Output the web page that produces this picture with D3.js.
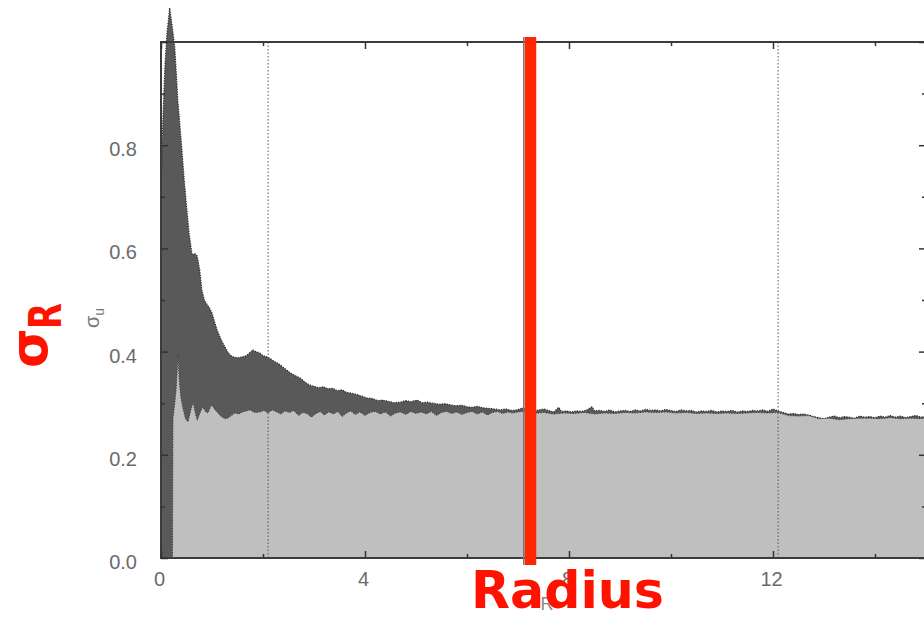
<!DOCTYPE html>
<html>
<head>
<meta charset="utf-8">
<script src="https://cdn.jsdelivr.net/npm/d3@7"></script>
<style>
  html, body { margin: 0; padding: 0; background: #fff; }
  svg { display: block; }
</style>
</head>
<body>
<svg id="chart" width="924" height="621"></svg>
<script>
// Velocity dispersion profile: upper envelope (dark) and lower envelope (light)
const upperR = [0.00,0.04,0.08,0.12,0.17,0.22,0.27,0.33,0.37,0.41,0.45,0.49,0.55,0.61,0.66,0.71,0.76,0.80,0.85,0.90,
  0.95,1.00,1.05,1.10,1.15,1.20,1.26,1.31,1.36,1.41,1.50,1.60,1.67,1.74,1.80,1.86,1.94,2.00,2.08,2.15,
  2.22,2.30,2.39,2.47,2.55,2.64,2.73,2.82,2.92,3.00,3.08,3.18,3.27,3.37,3.46,3.55,3.63,3.71,3.80,3.90,
  4.04,4.15,4.25,4.35,4.45,4.57,4.69,4.80,4.90,5.02,5.12,5.22,5.33,5.45,5.57,5.67,5.78,5.90,6.00,6.10,
  6.20,6.31,6.42,6.53,6.65,6.76,6.87,6.98,7.10,7.20,7.30,7.40,7.50,7.60,7.70,7.80,7.85,7.95,8.05,8.15,
  8.25,8.35,8.45,8.50,8.60,8.70,8.80,8.90,9.00,9.10,9.20,9.30,9.40,9.50,9.60,9.70,9.80,9.90,10.00,10.10,
  10.20,10.30,10.40,10.50,10.60,10.70,10.80,10.90,11.00,11.10,11.20,11.30,11.40,11.50,11.60,11.70,11.80,11.90,12.00,12.10,
  12.20,12.30,12.40,12.50,12.60,12.70,12.80,12.90,13.00,13.10,13.20,13.30,13.40,13.50,13.60,13.70,13.80,13.90,14.00,14.10,
  14.20,14.30,14.40,14.50,14.60,14.70,14.80,14.90,15.00];
const upperSigma = [0.72,0.86,0.96,1.02,1.066,1.03,0.99,0.888,0.84,0.791,0.74,0.694,0.630,0.587,0.590,0.585,0.558,0.52,0.500,0.492,
  0.485,0.475,0.458,0.442,0.430,0.419,0.408,0.399,0.393,0.390,0.388,0.390,0.392,0.398,0.403,0.400,0.397,0.392,0.390,0.386,
  0.381,0.377,0.370,0.364,0.358,0.353,0.349,0.341,0.335,0.333,0.330,0.332,0.328,0.329,0.324,0.326,0.321,0.320,0.318,0.315,
  0.310,0.309,0.305,0.306,0.304,0.301,0.302,0.305,0.303,0.306,0.301,0.302,0.300,0.298,0.299,0.297,0.295,0.296,0.293,0.292,
  0.294,0.291,0.290,0.289,0.287,0.289,0.286,0.287,0.291,0.289,0.284,0.287,0.289,0.286,0.283,0.292,0.284,0.285,0.283,0.285,
  0.284,0.287,0.293,0.285,0.286,0.284,0.287,0.283,0.285,0.286,0.284,0.287,0.285,0.288,0.286,0.287,0.285,0.288,0.286,0.284,
  0.287,0.285,0.286,0.283,0.285,0.284,0.286,0.283,0.285,0.284,0.286,0.283,0.285,0.284,0.286,0.285,0.287,0.284,0.289,0.285,
  0.282,0.279,0.280,0.278,0.279,0.277,0.274,0.272,0.270,0.273,0.275,0.272,0.274,0.273,0.271,0.275,0.273,0.274,0.272,0.275,
  0.273,0.276,0.273,0.275,0.272,0.274,0.276,0.273,0.275];

const lowerR = [0.000,0.225,0.235,0.27,0.30,0.333,0.36,0.39,0.43,0.48,0.53,0.58,0.63,0.67,0.71,0.76,0.82,0.87,0.92,0.96,
  1.00,1.05,1.10,1.15,1.20,1.26,1.31,1.38,1.45,1.52,1.60,1.67,1.75,1.83,1.94,2.02,2.10,2.18,2.27,2.35,
  2.43,2.52,2.60,2.70,2.78,2.86,2.95,3.04,3.12,3.20,3.29,3.38,3.47,3.55,3.64,3.72,3.81,3.90,4.00,4.10,
  4.20,4.30,4.40,4.50,4.60,4.70,4.80,4.90,5.00,5.10,5.20,5.30,5.40,5.50,5.60,5.70,5.80,5.90,6.00,6.10,
  6.20,6.30,6.40,6.50,6.60,6.70,6.80,6.90,7.00,7.10,7.30,7.50,7.70,7.90,8.10,8.30,8.50,8.70,8.90,9.10,
  9.30,9.50,9.70,9.90,10.10,10.30,10.50,10.70,10.90,11.10,11.30,11.50,11.70,11.90,12.10,12.30,12.50,12.70,12.90,13.10,
  13.30,13.50,13.70,13.90,14.10,14.30,14.50,14.70,14.90,15.00];
const lowerSigma = [0,0,0.27,0.30,0.33,0.393,0.34,0.31,0.29,0.27,0.264,0.285,0.302,0.282,0.267,0.280,0.293,0.284,0.281,0.290,
  0.297,0.288,0.283,0.277,0.273,0.270,0.271,0.276,0.281,0.279,0.283,0.285,0.287,0.282,0.283,0.286,0.281,0.287,0.283,0.279,
  0.285,0.282,0.286,0.276,0.282,0.280,0.273,0.280,0.284,0.277,0.283,0.279,0.284,0.274,0.281,0.285,0.278,0.283,0.276,0.282,
  0.284,0.279,0.283,0.275,0.281,0.283,0.278,0.284,0.280,0.283,0.279,0.284,0.276,0.282,0.284,0.280,0.283,0.278,0.282,0.284,
  0.279,0.283,0.277,0.282,0.284,0.280,0.283,0.281,0.283,0.284,0.280,0.282,0.279,0.281,0.280,0.282,0.279,0.281,0.280,0.282,
  0.281,0.283,0.282,0.283,0.281,0.282,0.280,0.281,0.280,0.281,0.280,0.281,0.282,0.281,0.282,0.276,0.275,0.276,0.270,0.271,
  0.268,0.270,0.271,0.271,0.270,0.272,0.270,0.271,0.270,0.271];

const xMajorTicks = [0, 4, 8, 12];
const xMinorTicks = [2, 6, 10, 14];
const yMajorTicks = [0, 0.2, 0.4, 0.6, 0.8, 1.0];
const yMinorTicks = [0.1, 0.3, 0.5, 0.7, 0.9];
const yTickLabels = ["0.0", "0.2", "0.4", "0.6", "0.8", ""];
const gridR = [2.1, 12.1];
const markerR = 7.24;

const svg = d3.select("#chart");
const x = d3.scaleLinear().domain([0, 15]).range([161, 926]);
const y = d3.scaleLinear().domain([0, 1]).range([558, 42]);

const upper = upperR.map((r, i) => [r, upperSigma[i]]);
const lower = lowerR.map((r, i) => [r, lowerSigma[i]]);

const area = d3.area().x(d => x(d[0])).y0(y(0)).y1(d => y(d[1]));
const line = d3.line().x(d => x(d[0])).y(d => y(d[1]));

// filled envelopes
svg.append("path").datum(upper).attr("d", area).attr("fill", "#595959");
svg.append("path").datum(upper).attr("d", line)
  .attr("fill", "none").attr("stroke", "#2a2a2a").attr("stroke-width", 1.2).attr("stroke-dasharray", "1.2,1.3");
svg.append("path").datum(lower).attr("d", area).attr("fill", "#bfbfbf");
svg.append("path").datum(lower).attr("d", line)
  .attr("fill", "none").attr("stroke", "#3a3a3a").attr("stroke-width", 1).attr("stroke-dasharray", "1.2,1.5");

// dotted reference lines
svg.selectAll("line.grid").data(gridR).join("line")
  .attr("class", "grid")
  .attr("x1", d => x(d)).attr("x2", d => x(d))
  .attr("y1", y(1)).attr("y2", y(0))
  .attr("stroke", "#555").attr("stroke-width", 1).attr("stroke-dasharray", "1.5,2");

// frame
svg.append("rect")
  .attr("x", x(0)).attr("y", y(1))
  .attr("width", x(15) - x(0)).attr("height", y(0) - y(1))
  .attr("fill", "none").attr("stroke", "#3c3c3c").attr("stroke-width", 2);

// axes with inward ticks
const tickFont = "'Liberation Sans', Arial, sans-serif";
function styleAxis(g) {
  g.select(".domain").remove();
  g.selectAll(".tick line").attr("stroke", "#333").attr("stroke-width", 1.5);
  g.selectAll(".tick text").attr("fill", "#6b6b6b").style("font-family", tickFont).style("font-size", "20px");
}

svg.append("g").attr("transform", `translate(${x(0)},0)`)
  .call(d3.axisLeft(y).tickValues(yMajorTicks).tickSizeInner(-7).tickSizeOuter(0).tickPadding(24)
    .tickFormat((d, i) => yTickLabels[i]))
  .call(styleAxis)
  .call(g => g.selectAll(".tick text").attr("dy", "0.52em"));
svg.append("g").attr("transform", `translate(${x(0)},0)`)
  .call(d3.axisLeft(y).tickValues(yMinorTicks).tickSizeInner(-4).tickSizeOuter(0).tickFormat(""))
  .call(styleAxis);
svg.append("g").attr("transform", `translate(${x(15)},0)`)
  .call(d3.axisRight(y).tickValues(yMajorTicks).tickSizeInner(-7).tickSizeOuter(0).tickFormat(""))
  .call(styleAxis);
svg.append("g").attr("transform", `translate(${x(15)},0)`)
  .call(d3.axisRight(y).tickValues(yMinorTicks).tickSizeInner(-4).tickSizeOuter(0).tickFormat(""))
  .call(styleAxis);

svg.append("g").attr("transform", `translate(0,${y(0)})`)
  .call(d3.axisBottom(x).tickValues(xMajorTicks).tickSizeInner(-7).tickSizeOuter(0).tickPadding(14)
    .tickFormat(d3.format("d")))
  .call(styleAxis)
  .call(g => g.selectAll(".tick text").attr("dx", -2));
svg.append("g").attr("transform", `translate(0,${y(0)})`)
  .call(d3.axisBottom(x).tickValues(xMinorTicks).tickSizeInner(-4).tickSizeOuter(0).tickFormat(""))
  .call(styleAxis);
svg.append("g").attr("transform", `translate(0,${y(1)})`)
  .call(d3.axisTop(x).tickValues(xMajorTicks).tickSizeInner(-7).tickSizeOuter(0).tickFormat(""))
  .call(styleAxis);
svg.append("g").attr("transform", `translate(0,${y(1)})`)
  .call(d3.axisTop(x).tickValues(xMinorTicks).tickSizeInner(-4).tickSizeOuter(0).tickFormat(""))
  .call(styleAxis);

// small axis titles
const yTitle = svg.append("text")
  .attr("transform", "translate(99,318) rotate(-90)")
  .attr("text-anchor", "middle")
  .attr("fill", "#777").style("font-family", tickFont).style("font-size", "20px");
yTitle.append("tspan").text("σ");
yTitle.append("tspan").attr("font-size", "14px").attr("dy", 5).text("u");

svg.append("text")
  .attr("x", 547).attr("y", 610)
  .attr("text-anchor", "middle")
  .attr("fill", "#888").style("font-family", tickFont).style("font-size", "18px")
  .text("R");

// radius marker
svg.append("line")
  .attr("x1", x(markerR) - 6.5).attr("x2", x(markerR) - 6.5)
  .attr("y1", 37).attr("y2", 565)
  .attr("stroke", "#6f7a80").attr("stroke-width", 1.5);
svg.append("rect")
  .attr("x", x(markerR) - 5.5).attr("y", 37)
  .attr("width", 11.5).attr("height", 528)
  .attr("fill", "#ff2600");

// large annotations
const bigFont = "'DejaVu Sans', sans-serif";
svg.append("text")
  .attr("x", 471).attr("y", 608)
  .attr("textLength", 193).attr("lengthAdjust", "spacingAndGlyphs")
  .attr("fill", "#ff1200").style("font-family", bigFont).style("font-weight", "bold").style("font-size", "51px")
  .text("Radius");

svg.append("text")
  .attr("transform", "translate(47,368) rotate(-90)")
  .attr("fill", "#ff1200").style("font-family", bigFont).style("font-weight", "bold").style("font-size", "51px")
  .text("σ");
svg.append("text")
  .attr("transform", "translate(61,329) rotate(-90)")
  .attr("textLength", 26).attr("lengthAdjust", "spacingAndGlyphs")
  .attr("fill", "#ff1200").style("font-family", bigFont).style("font-weight", "bold").style("font-size", "44px")
  .text("R");
</script>
</body>
</html>
